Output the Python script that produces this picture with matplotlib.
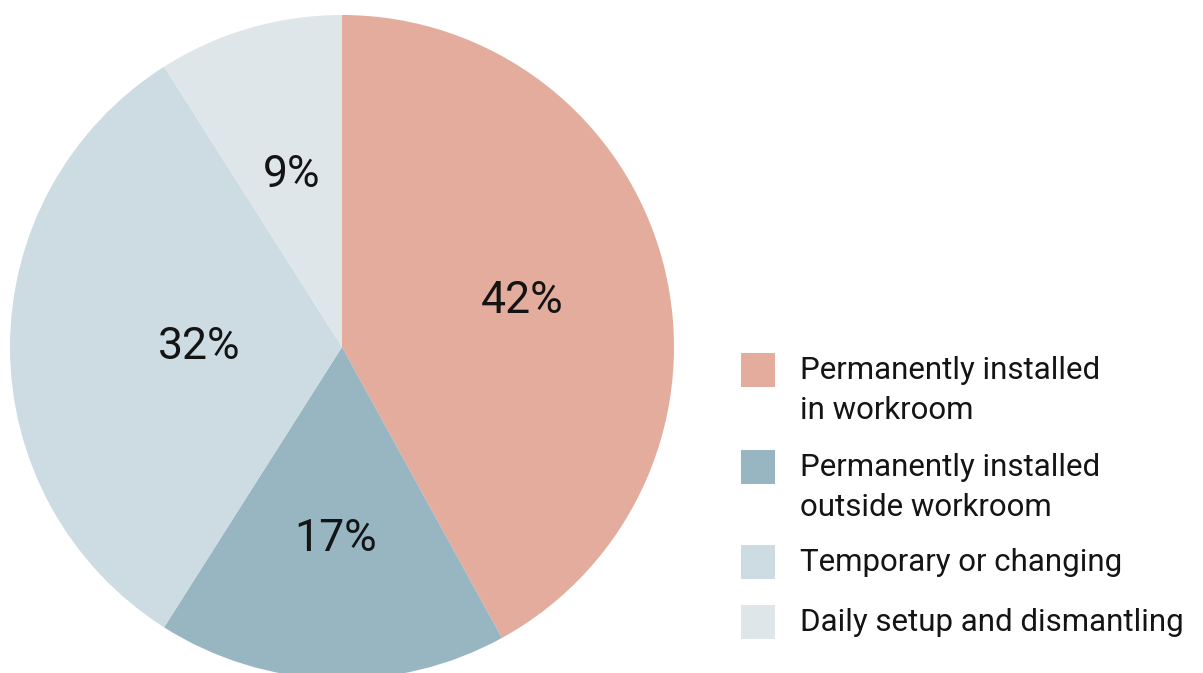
import numpy as np
import matplotlib
matplotlib.use("Agg")
import matplotlib.pyplot as plt
from matplotlib.patches import Rectangle

labels = ["Permanently installed\nin workroom",
          "Permanently installed\noutside workroom",
          "Temporary or changing",
          "Daily setup and dismantling"]
shares = [42, 17, 32, 9]
colors = ["#E3AC9C", "#97B6C2", "#CCDCE2", "#DEE6EA"]

# radial position of each percentage label (fraction of radius)
label_dist = [0.56, 0.58, 0.43, 0.54]

plt.rcParams['font.family'] = ['Roboto', 'DejaVu Sans']
W, H = 1203, 673
txt_color = "#141414"

fig = plt.figure(figsize=(W / 100, H / 100), dpi=100)
fig.patch.set_facecolor("white")

ax = fig.add_axes([10 / W, (H - 679) / H, 664 / W, 664 / H])
wedges, _ = ax.pie(shares, colors=colors, startangle=90, counterclock=False,
                   radius=1, wedgeprops=dict(linewidth=0))
ax.set_xlim(-1, 1)
ax.set_ylim(-1, 1)
ax.set_aspect("equal")

for w, s, d in zip(wedges, shares, label_dist):
    th = np.deg2rad((w.theta1 + w.theta2) / 2)
    ax.text(d * np.cos(th), d * np.sin(th), f"{s}%", ha="center", va="center",
            fontsize=32, color=txt_color)

# legend drawn by hand: square + text lines
row_tops = [353, 450, 545, 605]
for top, lab, c in zip(row_tops, labels, colors):
    fig.patches.append(Rectangle((741 / W, (H - top - 34) / H), 34 / W, 34 / H,
                                 transform=fig.transFigure, facecolor=c,
                                 edgecolor="none"))
    for i, line in enumerate(lab.split("\n")):
        fig.text(800 / W, (H - top - 26 - 40 * i) / H, line, ha="left",
                 va="baseline", fontsize=22.5, color=txt_color)

fig.savefig("out.png", dpi=100)
